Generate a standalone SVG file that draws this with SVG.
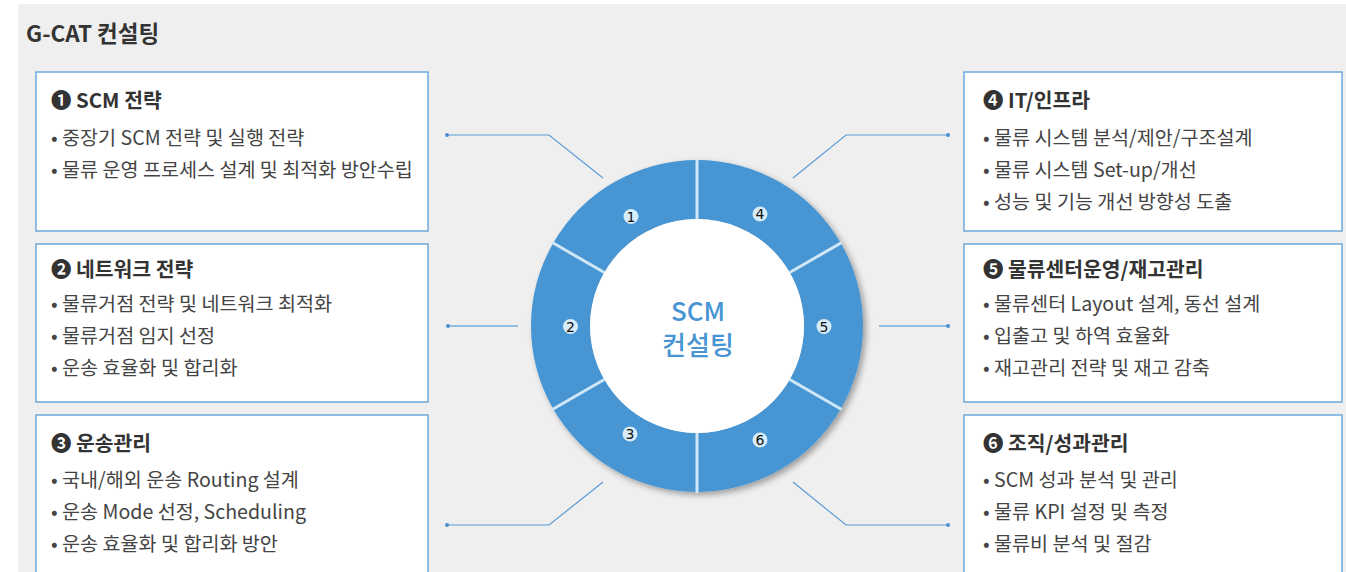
<svg xmlns="http://www.w3.org/2000/svg" width="1346" height="572" viewBox="0 0 1346 572">
<defs>
<style>
.kr{font-family:"Noto Sans CJK KR","Noto Sans",sans-serif}
.title{font-size:22.5px;font-weight:700;fill:#333}
.hd{font-size:20.4px;font-weight:700;fill:#333}
.bl{font-size:19.6px;font-weight:400;fill:#444}
.box{fill:#fff;stroke:#6fa8dc;stroke-width:1.5}
.conn{fill:none;stroke:#5a9bd6;stroke-width:1.2}
.conn2{fill:none;stroke:#93bfe2;stroke-width:2}
.dot{fill:#4a90d0}
.div{stroke:#cfe7f7;stroke-width:3}
.nc{fill:#d6ecf9}
.nt{font-family:"DejaVu Sans","Liberation Sans",sans-serif;font-size:14px;fill:#111;text-anchor:middle}
.ctr{font-size:26px;font-weight:500;fill:#4795d2;text-anchor:middle}
</style>
<filter id="sh" x="-20%" y="-20%" width="140%" height="140%">
<feGaussianBlur in="SourceAlpha" stdDeviation="3"/>
<feOffset dx="3" dy="3" result="b"/>
<feComponentTransfer><feFuncA type="linear" slope="0.35"/></feComponentTransfer>
<feMerge><feMergeNode/><feMergeNode in="SourceGraphic"/></feMerge>
</filter>
</defs>
<rect x="0" y="0" width="1346" height="572" fill="#fff"/>
<rect x="18" y="4" width="1328" height="568" fill="#efefef"/>
<text class="kr title" x="26" y="42">G-CAT 컨설팅</text>

<g id="connectors">
<polyline class="conn" points="447,135 549,135 603,178"/>
<line class="conn2" x1="447" y1="326" x2="518" y2="326"/>
<polyline class="conn" points="447,525 549,525 603,482"/>
<polyline class="conn" points="948,135 846,135 793,178"/>
<line class="conn2" x1="879" y1="326" x2="948" y2="326"/>
<polyline class="conn" points="948,525 846,525 793,482"/>
<circle class="dot" cx="447" cy="135" r="2"/>
<circle class="dot" cx="448" cy="326" r="2"/>
<circle class="dot" cx="447" cy="525" r="2"/>
<circle class="dot" cx="948" cy="135" r="2"/>
<circle class="dot" cx="948" cy="326" r="2"/>
<circle class="dot" cx="948" cy="525" r="2"/>
</g>

<g id="hub">
<path filter="url(#sh)" fill="#4795d2" fill-rule="evenodd" d="M697,160 a166,166 0 1,0 0.01,0 Z M697,219 a107,107 0 1,1 -0.01,0 Z"/>
<line class="div" x1="697" y1="219" x2="697" y2="159"/>
<line class="div" x1="697" y1="433" x2="697" y2="493"/>
<line class="div" x1="604.3" y1="272.5" x2="552.3" y2="242.5"/>
<line class="div" x1="604.3" y1="379.5" x2="552.3" y2="409.5"/>
<line class="div" x1="789.7" y1="272.5" x2="841.7" y2="242.5"/>
<line class="div" x1="789.7" y1="379.5" x2="841.7" y2="409.5"/>
<circle cx="697" cy="326" r="107" fill="#fff"/>
<text class="kr ctr" x="698" y="321">SCM</text>
<text class="kr ctr" x="698" y="355">컨설팅</text>
<circle class="nc" cx="631" cy="216.5" r="7.5"/><text class="nt" x="631" y="221.5">1</text>
<circle class="nc" cx="570.5" cy="326.5" r="7.5"/><text class="nt" x="570.5" y="331.5">2</text>
<circle class="nc" cx="630" cy="434" r="7.5"/><text class="nt" x="630" y="439">3</text>
<circle class="nc" cx="760" cy="214" r="7.5"/><text class="nt" x="760" y="219">4</text>
<circle class="nc" cx="824" cy="326.5" r="7.5"/><text class="nt" x="824" y="331.5">5</text>
<circle class="nc" cx="760" cy="440" r="7.5"/><text class="nt" x="760" y="445">6</text>
</g>

<g id="node1">
<rect class="box" x="36" y="72" width="392" height="159"/>
<text class="kr hd" x="51" y="108">❶ SCM 전략</text>
<text class="kr bl" x="51" y="145">• 중장기 SCM 전략 및 실행 전략</text>
<text class="kr bl" x="51" y="177">• 물류 운영 프로세스 설계 및 최적화 방안수립</text>
</g>
<g id="node2">
<rect class="box" x="36" y="244" width="392" height="158"/>
<text class="kr hd" x="51" y="277">❷ 네트워크 전략</text>
<text class="kr bl" x="51" y="311">• 물류거점 전략 및 네트워크 최적화</text>
<text class="kr bl" x="51" y="343">• 물류거점 임지 선정</text>
<text class="kr bl" x="51" y="375">• 운송 효율화 및 합리화</text>
</g>
<g id="node3">
<rect class="box" x="36" y="415" width="392" height="170"/>
<text class="kr hd" x="51" y="451">❸ 운송관리</text>
<text class="kr bl" x="51" y="487">• 국내/해외 운송 Routing 설계</text>
<text class="kr bl" x="51" y="519">• 운송 Mode 선정, Scheduling</text>
<text class="kr bl" x="51" y="551">• 운송 효율화 및 합리화 방안</text>
</g>
<g id="node4">
<rect class="box" x="964" y="72" width="378" height="159"/>
<text class="kr hd" x="983" y="108">❹ IT/인프라</text>
<text class="kr bl" x="983" y="145">• 물류 시스템 분석/제안/구조설계</text>
<text class="kr bl" x="983" y="177">• 물류 시스템 Set-up/개선</text>
<text class="kr bl" x="983" y="209">• 성능 및 기능 개선 방향성 도출</text>
</g>
<g id="node5">
<rect class="box" x="964" y="244" width="378" height="158"/>
<text class="kr hd" x="983" y="277">❺ 물류센터운영/재고관리</text>
<text class="kr bl" x="983" y="311">• 물류센터 Layout 설계, 동선 설계</text>
<text class="kr bl" x="983" y="343">• 입출고 및 하역 효율화</text>
<text class="kr bl" x="983" y="375">• 재고관리 전략 및 재고 감축</text>
</g>
<g id="node6">
<rect class="box" x="964" y="415" width="378" height="170"/>
<text class="kr hd" x="983" y="451">❻ 조직/성과관리</text>
<text class="kr bl" x="983" y="487">• SCM 성과 분석 및 관리</text>
<text class="kr bl" x="983" y="519">• 물류 KPI 설정 및 측정</text>
<text class="kr bl" x="983" y="551">• 물류비 분석 및 절감</text>
</g>
</svg>
